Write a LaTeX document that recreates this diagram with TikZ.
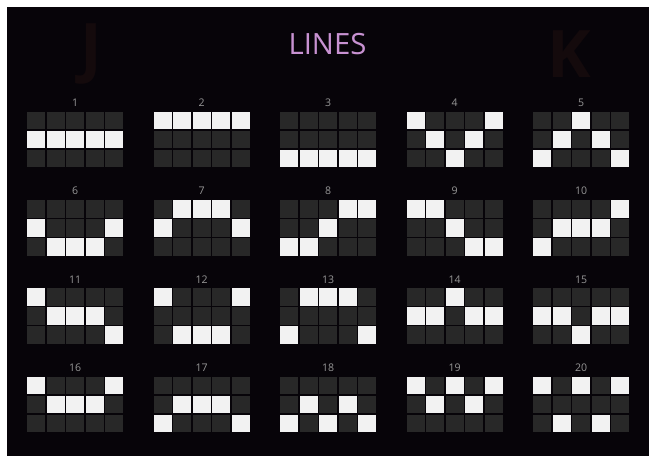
\documentclass[tikz,border=0pt]{standalone}
\usepackage{fontspec}
\setmainfont{Open Sans}
\definecolor{bgdark}{HTML}{070409}
\definecolor{celloff}{HTML}{282828}
\definecolor{cellon}{HTML}{F2F2F2}
\definecolor{titlepink}{HTML}{C892D2}
\definecolor{numgrey}{HTML}{969696}
\definecolor{ghost}{HTML}{140A0C}
\begin{document}
\begin{tikzpicture}[x=0.03cm,y=-0.03cm]
\tikzset{offcell/.style={fill=celloff}, oncell/.style={fill=cellon},
  linenum/.style={text=numgrey,font=\fontsize{9}{9}\selectfont,inner sep=0pt},
  ghostletter/.style={text=ghost,font=\fontsize{56}{56}\selectfont\bfseries,inner sep=0pt}}
\fill[white] (0,0) rectangle (649,456);
\fill[bgdark] (7,7) rectangle (649,456);
% faint letters of the background
\node[ghostletter] (bgJ) at (91,54) {J};
\node[ghostletter] (bgK) at (569,54) {K};
\node[text=titlepink,font=\fontsize{25}{25}\selectfont] (title) at (327.5,44) {LINES};
% the twenty lines: number / row of each of the five reels
\foreach \num/\ra/\rb/\rc/\rd/\re [count=\i from 0] in {
  1/1/1/1/1/1, 2/0/0/0/0/0, 3/2/2/2/2/2, 4/0/1/2/1/0, 5/2/1/0/1/2,
  6/1/2/2/2/1, 7/1/0/0/0/1, 8/2/2/1/0/0, 9/0/0/1/2/2, 10/2/1/1/1/0,
  11/0/1/1/1/2, 12/0/2/2/2/0, 13/2/0/0/0/2, 14/1/1/0/1/1, 15/1/1/2/1/1,
  16/0/1/1/1/0, 17/2/1/1/1/2, 18/2/1/2/1/2, 19/0/1/0/1/0, 20/0/2/0/2/0}{
  \pgfmathsetmacro\gx{27+126.5*mod(\i,5)}
  \pgfmathsetmacro\gy{112+88.2*int(\i/5)}
  \foreach \cc in {0,...,4} \foreach \rr in {0,1,2}
    \fill[offcell] (\gx+19.6*\cc,\gy+19*\rr) rectangle ++(18,17.5);
  \foreach \rr [count=\cc from 0] in {\ra,\rb,\rc,\rd,\re}
    \fill[oncell] (\gx+19.6*\cc,\gy+19*\rr) rectangle ++(18,17.5);
  \node[linenum] (num\num) at (\gx+48.2,\gy-9) {\num};
}
\end{tikzpicture}
\end{document}
